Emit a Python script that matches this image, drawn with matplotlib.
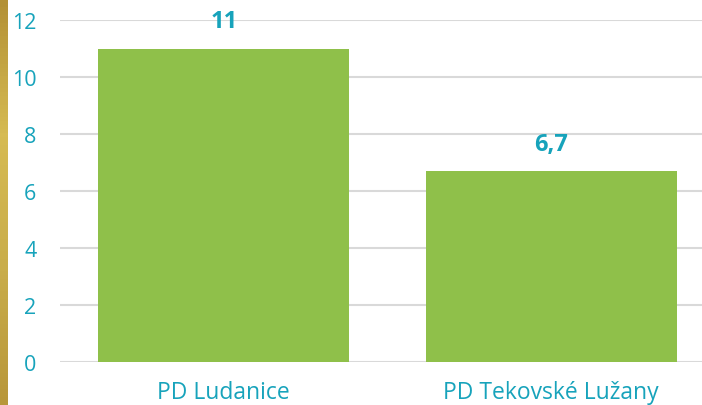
import numpy as np
import matplotlib.pyplot as plt
from matplotlib.colors import LinearSegmentedColormap

# datos del grafico
categorias = ["PD Ludanice", "PD Tekovské Lužany"]
valores = [11, 6.7]
etiquetas = ["11", "6,7"]
yticks = [0, 2, 4, 6, 8, 10, 12]

teal = "#17a3bb"
verde = "#8fc04a"

plt.rcParams['font.family'] = ['Open Sans', 'DejaVu Sans']

fig = plt.figure(figsize=(7.02, 4.06), dpi=100)

# franja dorada a la izquierda
franja = fig.add_axes([0, 0, 8 / 702, 1])
cmap = LinearSegmentedColormap.from_list("oro", ["#b39136", "#d6bb52", "#c9ad4a", "#b8973a"])
franja.imshow(np.linspace(0, 1, 100).reshape(-1, 1), aspect='auto', cmap=cmap)
franja.axis('off')

ax = fig.add_axes([60 / 702, 43 / 406, 655 / 702, 342 / 406])
x = np.arange(len(categorias))
ax.bar(x, valores, width=0.766, color=verde, zorder=3)

for xi, v, t in zip(x, valores, etiquetas):
    ax.annotate(t, (xi, v), xytext=(0, 11), textcoords='offset points',
                ha='center', va='bottom', color=teal, fontsize=17, fontweight='bold')

ax.set_xlim(-0.5, 1.5)
ax.set_ylim(0, 12)
ax.set_yticks(yticks)
ax.set_xticks(x)
ax.set_xticklabels(categorias)
ax.yaxis.grid(True, color='#d9d9d9', linewidth=1.5, zorder=0)
ax.tick_params(axis='y', length=0, pad=17, labelsize=15.5, labelcolor=teal)
ax.tick_params(axis='x', length=0, pad=13, labelsize=16.5, labelcolor=teal)
for s in ax.spines.values():
    s.set_visible(False)

fig.savefig("out.png", dpi=100)
